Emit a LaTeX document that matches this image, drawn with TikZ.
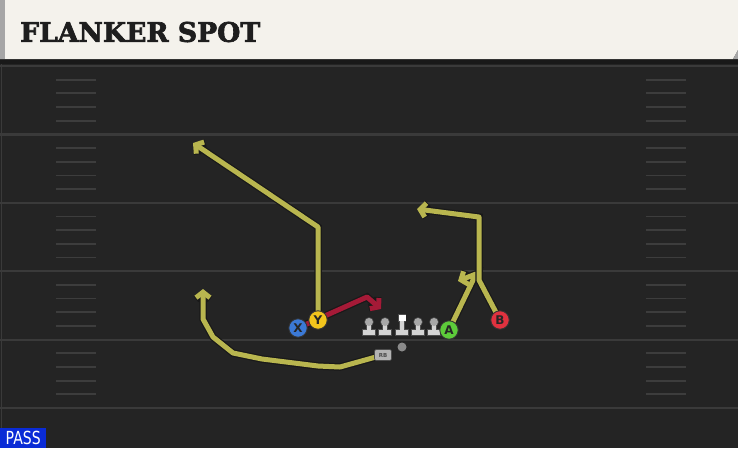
\documentclass[tikz,border=0pt]{standalone}
\usepackage{fontspec}
\setmainfont{DejaVu Sans}
\newfontfamily\titlefont[BoldFeatures={FakeBold=2.5}]{DejaVu Serif}
\usetikzlibrary{arrows.meta}
\definecolor{fieldbg}{HTML}{242424}
\definecolor{yardc}{HTML}{3A3A3A}
\definecolor{hashc}{HTML}{3D3D3D}
\definecolor{cream}{HTML}{F4F2EC}
\definecolor{titlec}{HTML}{1E1E1E}
\definecolor{routey}{HTML}{B9B64F}
\definecolor{router}{HTML}{A51A37}
\definecolor{pblue}{HTML}{3B79D6}
\definecolor{pyellow}{HTML}{F2C51C}
\definecolor{pgreen}{HTML}{5DCB3A}
\definecolor{pred}{HTML}{E0323F}
\definecolor{passblue}{HTML}{0A2BD6}
\definecolor{olbody}{HTML}{D4D4D4}
\definecolor{olhead}{HTML}{A8A8A8}
\definecolor{rbgray}{HTML}{B4B4B4}
\definecolor{qbgray}{HTML}{8A8A8A}
\pgfdeclarelayer{field}
\pgfdeclarelayer{routes}
\pgfsetlayers{field,routes,main}
\tikzset{
  yard/.style={draw=yardc, line width=2.2pt},
  hashm/.style={draw=hashc, line width=1.8pt},
  player/.style={circle, draw=black!80, line width=0.9pt, minimum size=18.5pt, inner sep=0pt,
    font=\bfseries\fontsize{12}{12}\selectfont, text=black!85},
  route/.style={draw=routey, line width=5pt, line join=round,
    -{Straight Barb[length=5.5pt,width=14pt]},
    preaction={draw=black!90, line width=7.5pt}},
  redroute/.style={route, draw=router},
  lineman/.pic={
    \fill[black!70] (-6.8,7.2) rectangle (6.8,13.8);
    \fill[black!70] (-2.8,0) rectangle (2.8,8);
    \fill[black!70] (0,0) circle (4.8pt);
    \fill[olbody] (-6,8) rectangle (6,13);
    \fill[olbody] (-2,1) rectangle (2,8.5);
    \fill[olhead] (0,0) circle (4pt);
  },
  centerman/.pic={
    \fill[black!70] (-6.8,7.2) rectangle (6.8,13.8);
    \fill[black!70] (-2.8,0) rectangle (2.8,8);
    \fill[black!70] (-4.3,-8.3) rectangle (4.3,-0.2);
    \fill[olbody] (-6,8) rectangle (6,13);
    \fill[olbody] (-2,-1) rectangle (2,8.5);
    \fill[white] (-3.5,-7.5) rectangle (3.5,-1);
  }
}
\begin{document}
\begin{tikzpicture}[x=1pt,y=-1pt]
\useasboundingbox (0,0) rectangle (738,448);
\begin{pgfonlayer}{field}
  \fill[fieldbg] (0,0) rectangle (738,448);
  \foreach \k in {0,...,5} {
    \draw[yard] (0,{66+68.4*\k}) -- (738,{66+68.4*\k});
  }
  \foreach \k in {0,...,4} {
    \foreach \j in {1,...,4} {
      \draw[hashm] (56,{66+68.4*\k+13.68*\j}) -- (96,{66+68.4*\k+13.68*\j});
      \draw[hashm] (646,{66+68.4*\k+13.68*\j}) -- (686,{66+68.4*\k+13.68*\j});
    }
  }
  \draw[yardc, line width=1.5pt] (1.5,60) -- (1.5,448);
  \fill[black!90] (0,58) rectangle (738,64);
  \fill[cream] (0,0) -- (738,0) -- (738,50) -- (733,59) -- (0,59) -- cycle;
  \fill[black!35] (0,0) rectangle (5,59);
  \fill[gray!70] (733,59) -- (738,50) -- (738,59) -- cycle;
\end{pgfonlayer}

\node[anchor=west, inner sep=0pt, text=titlec] (title) at (20,32)
  {\resizebox{240pt}{20pt}{\titlefont\bfseries FLANKER SPOT}};

\node[fill=passblue, text=white, anchor=south west, minimum width=46pt, minimum height=20pt, inner sep=0pt] (pass) at (0,448)
  {\scalebox{0.78}[1]{\fontsize{18}{18}\selectfont PASS}};

% offensive line
\coordinate (LT) at (369,322);
\coordinate (LG) at (385,322);
\coordinate (C)  at (402,322);
\coordinate (RG) at (418,322);
\coordinate (RT) at (434,322);
\pic at (LT) {lineman};
\pic at (LG) {lineman};
\pic at (C)  {centerman};
\pic at (RG) {lineman};
\pic at (RT) {lineman};

% players
\node[circle, fill=qbgray, minimum size=9pt, inner sep=0pt] (QB) at (402,347) {};
\node[fill=rbgray, draw=black!70, line width=0.6pt, rounded corners=2pt, minimum width=17pt, minimum height=11pt, inner sep=0pt,
  font=\bfseries\fontsize{5.5}{5.5}\selectfont, text=black!70] (RB) at (383,355) {RB};
\node[player, fill=pblue] (X) at (298,328) {X};
\node[player, fill=pyellow] (Y) at (318,320) {Y};
\node[player, fill=pgreen] (A) at (449,330) {A};
\node[player, fill=pred] (B) at (500,320) {B};

% route break points
\coordinate (y1) at (318,227);
\coordinate (yend) at (193,143);
\coordinate (x1) at (367,297);
\coordinate (xend) at (381,309);
\coordinate (a1) at (476,274);
\coordinate (aend) at (458,281);
\coordinate (b1) at (479,280);
\coordinate (b2) at (479,217);
\coordinate (bend) at (417,209);
\coordinate (r1) at (340,367);
\coordinate (r2) at (318,366);
\coordinate (r3) at (262,359);
\coordinate (r4) at (233,353);
\coordinate (r5) at (213,337);
\coordinate (r6) at (203,319);
\coordinate (rend) at (203,289);

\begin{pgfonlayer}{routes}
  \draw[route] (Y.center) -- (y1) -- (yend);
  \draw[redroute] (X.center) -- (x1) -- (xend);
  \draw[route] (A.center) -- (a1) -- (aend);
  \draw[route] (B.center) -- (b1) -- (b2) -- (bend);
  \draw[route] (RB.center) -- (r1) -- (r2) -- (r3) -- (r4) -- (r5) -- (r6) -- (rend);
\end{pgfonlayer}
\end{tikzpicture}
\end{document}
